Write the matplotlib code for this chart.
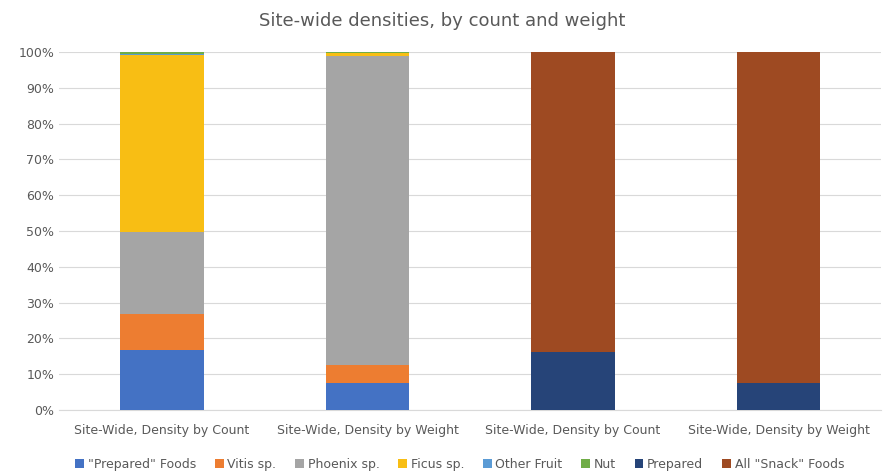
import numpy as np
import matplotlib.pyplot as plt
from matplotlib.ticker import PercentFormatter

categories = ["Site-Wide, Density by Count", "Site-Wide, Density by Weight",
              "Site-Wide, Density by Count", "Site-Wide, Density by Weight"]

series_names = ['"Prepared" Foods', "Vitis sp.", "Phoenix sp.", "Ficus sp.",
                "Other Fruit", "Nut", "Prepared", 'All "Snack" Foods']

prepared_foods = [16.8, 7.5, 0, 0]
vitis = [10.0, 5.1, 0, 0]
phoenix = [23.0, 86.3, 0, 0]
ficus = [49.4, 0.8, 0, 0]
other_fruit = [0.2, 0.1, 0, 0]
nut = [0.6, 0.2, 0, 0]
prepared = [0, 0, 16.2, 7.5]
snack = [0, 0, 83.8, 92.5]

values = [prepared_foods, vitis, phoenix, ficus, other_fruit, nut, prepared, snack]
colors = ["#4472C4", "#ED7D31", "#A5A5A5", "#F8BE14",
          "#5B9BD5", "#70AD47", "#264478", "#9E4A22"]

fig = plt.figure(figsize=(8.84, 4.73), dpi=100)
ax = fig.add_axes([0.067, 0.133, 0.93, 0.757])

x = np.arange(len(categories))
bottom = np.zeros(len(categories))
for name, vals, c in zip(series_names, values, colors):
    vals = np.array(vals, dtype=float)
    ax.bar(x, vals, width=0.405, bottom=bottom, color=c, label=name, zorder=3)
    bottom += vals

ax.set_ylim(0, 100)
ax.set_xlim(-0.5, len(categories) - 0.5)
ax.set_yticks(np.arange(0, 101, 10))
ax.yaxis.set_major_formatter(PercentFormatter(decimals=0))
ax.set_xticks(x)
ax.set_xticklabels(categories)
ax.tick_params(axis='both', length=0, labelsize=9, labelcolor='#595959')
ax.tick_params(axis='x', pad=10)
ax.grid(axis='y', color='#D9D9D9', linewidth=0.8, zorder=0)
for s in ['top', 'right', 'left']:
    ax.spines[s].set_visible(False)
ax.spines['bottom'].set_color('#D9D9D9')

fig.suptitle("Site-wide densities, by count and weight", y=0.975,
             fontsize=13, color='#595959')

fig.legend(loc='lower center', ncol=8, frameon=False, fontsize=9,
           bbox_to_anchor=(0.52, -0.02), handlelength=0.7, handleheight=0.7,
           handletextpad=0.3, columnspacing=1.5, labelcolor='#595959')

fig.savefig("out.png", dpi=100)
